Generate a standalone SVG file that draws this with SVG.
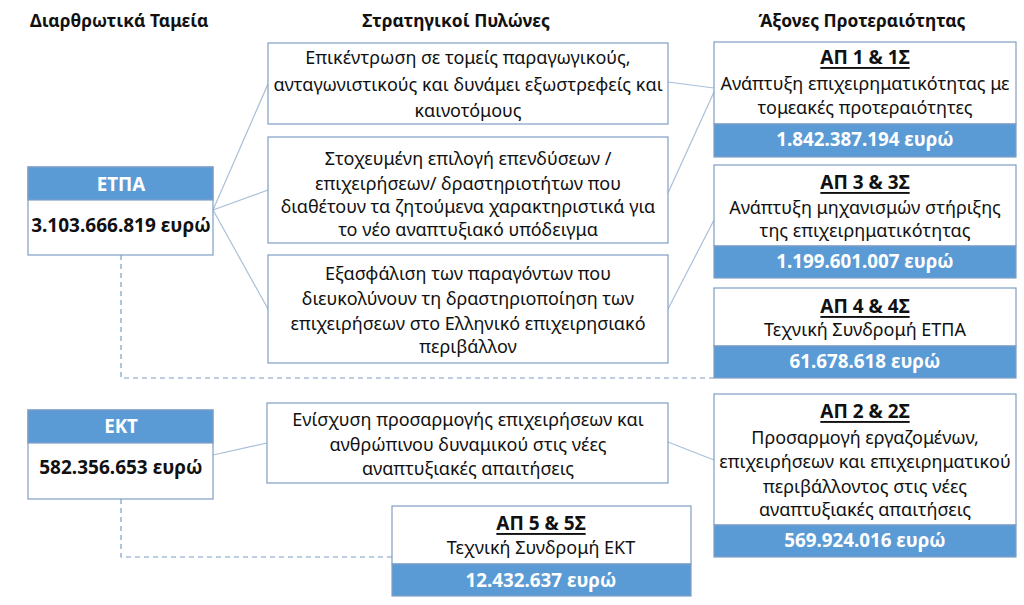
<svg xmlns="http://www.w3.org/2000/svg" width="1024" height="605" viewBox="0 0 1024 605">
<style>
text{font-family:"Noto Sans","Open Sans","Liberation Sans",sans-serif;fill:#111;dominant-baseline:central;text-anchor:middle}
.t{font-size:18px}
.h{font-size:17.4px;font-weight:bold}
.b{font-size:19px;font-weight:bold}
.w{font-size:18.8px;font-weight:bold;fill:#fff}
.u{text-decoration:underline}
.box{fill:#fff;stroke:#7f9ec6;stroke-width:1.2}
.bar{fill:#5b9bd5;stroke:#7f9ec6;stroke-width:1.2}
.ln{stroke:#a9bfd9;stroke-width:1.2;fill:none}
.dash{stroke:#7f9ec6;stroke-width:1.2;fill:none;stroke-dasharray:5 4}
</style>
<rect width="1024" height="605" fill="#fff"/>
<g id="headers">
<text class="h" x="30" y="20" style="text-anchor:start">Διαρθρωτικά Ταμεία</text>
<text class="h" x="456" y="20">Στρατηγικοί Πυλώνες</text>
<text class="h" x="862" y="20">Άξονες Προτεραιότητας</text>
</g>
<g id="connectors">
<path class="ln" d="M213 210 L268 84"/>
<path class="ln" d="M213 210 L268 190"/>
<path class="ln" d="M213 210 L268 309"/>
<path class="ln" d="M668 82 L714 88"/>
<path class="ln" d="M668 193 L714 92"/>
<path class="ln" d="M668 309 L714 220"/>
<path class="ln" d="M213 455 L267 443"/>
<path class="ln" d="M668 442 L714 460"/>
<path class="dash" d="M121 255 V378 H714"/>
<path class="dash" d="M121 499 V557 H392"/>
</g>
<g id="etpa">
<rect class="box" x="28" y="167" width="185" height="88"/>
<rect class="bar" x="28" y="167" width="185" height="33"/>
<text class="w" x="121" y="184">ΕΤΠΑ</text>
<text class="b" x="121" y="225">3.103.666.819 ευρώ</text>
</g>
<g id="ekt">
<rect class="box" x="28" y="410" width="185" height="89"/>
<rect class="bar" x="28" y="410" width="185" height="33"/>
<text class="w" x="121" y="426">ΕΚΤ</text>
<text class="b" x="121" y="467">582.356.653 ευρώ</text>
</g>
<g id="pillar1">
<rect class="box" x="268" y="43" width="400" height="81"/>
<text class="t" x="468" y="57">Επικέντρωση σε τομείς παραγωγικούς,</text>
<text class="t" x="468" y="84">ανταγωνιστικούς και δυνάμει εξωστρεφείς και</text>
<text class="t" x="468" y="110">καινοτόμους</text>
</g>
<g id="pillar2">
<rect class="box" x="268" y="137" width="400" height="106"/>
<text class="t" x="468" y="158">Στοχευμένη επιλογή επενδύσεων /</text>
<text class="t" x="468" y="183">επιχειρήσεων/ δραστηριοτήτων που</text>
<text class="t" x="468" y="206">διαθέτουν τα ζητούμενα χαρακτηριστικά για</text>
<text class="t" x="468" y="229">το νέο αναπτυξιακό υπόδειγμα</text>
</g>
<g id="pillar3">
<rect class="box" x="268" y="255" width="400" height="108"/>
<text class="t" x="468" y="273">Εξασφάλιση των παραγόντων που</text>
<text class="t" x="468" y="298">διευκολύνουν τη δραστηριοποίηση των</text>
<text class="t" x="468" y="323">επιχειρήσεων στο Ελληνικό επιχειρησιακό</text>
<text class="t" x="468" y="346">περιβάλλον</text>
</g>
<g id="pillar4">
<rect class="box" x="267" y="403" width="401" height="80"/>
<text class="t" x="468" y="419">Ενίσχυση προσαρμογής επιχειρήσεων και</text>
<text class="t" x="468" y="444">ανθρώπινου δυναμικού στις νέες</text>
<text class="t" x="468" y="468">αναπτυξιακές απαιτήσεις</text>
</g>
<g id="ap1">
<rect class="box" x="714" y="42" width="302" height="82"/>
<rect class="bar" x="714" y="124" width="302" height="33"/>
<text class="b u" x="865" y="57">ΑΠ 1 &amp; 1Σ</text>
<text class="t" x="865" y="83">Ανάπτυξη επιχειρηματικότητας με</text>
<text class="t" x="865" y="107">τομεακές προτεραιότητες</text>
<text class="w" x="865" y="139">1.842.387.194 ευρώ</text>
</g>
<g id="ap3">
<rect class="box" x="714" y="165" width="302" height="81"/>
<rect class="bar" x="714" y="246" width="302" height="32"/>
<text class="b u" x="865" y="182">ΑΠ 3 &amp; 3Σ</text>
<text class="t" x="865" y="207">Ανάπτυξη μηχανισμών στήριξης</text>
<text class="t" x="865" y="230">της επιχειρηματικότητας</text>
<text class="w" x="865" y="261">1.199.601.007 ευρώ</text>
</g>
<g id="ap4">
<rect class="box" x="714" y="288" width="302" height="58"/>
<rect class="bar" x="714" y="346" width="302" height="32"/>
<text class="b u" x="865" y="306">ΑΠ 4 &amp; 4Σ</text>
<text class="t" x="865" y="329">Τεχνική Συνδρομή ΕΤΠΑ</text>
<text class="w" x="865" y="361">61.678.618 ευρώ</text>
</g>
<g id="ap2">
<rect class="box" x="714" y="394" width="302" height="131"/>
<rect class="bar" x="714" y="525" width="302" height="32"/>
<text class="b u" x="865" y="411">ΑΠ 2 &amp; 2Σ</text>
<text class="t" x="865" y="437">Προσαρμογή εργαζομένων,</text>
<text class="t" x="865" y="461">επιχειρήσεων και επιχειρηματικού</text>
<text class="t" x="865" y="486">περιβάλλοντος στις νέες</text>
<text class="t" x="865" y="509">αναπτυξιακές απαιτήσεις</text>
<text class="w" x="865" y="540">569.924.016 ευρώ</text>
</g>
<g id="ap5">
<rect class="box" x="392" y="506" width="299" height="58"/>
<rect class="bar" x="392" y="564" width="299" height="32"/>
<text class="b u" x="541" y="523">ΑΠ 5 &amp; 5Σ</text>
<text class="t" x="541" y="547">Τεχνική Συνδρομή ΕΚΤ</text>
<text class="w" x="541" y="580">12.432.637 ευρώ</text>
</g>
</svg>
